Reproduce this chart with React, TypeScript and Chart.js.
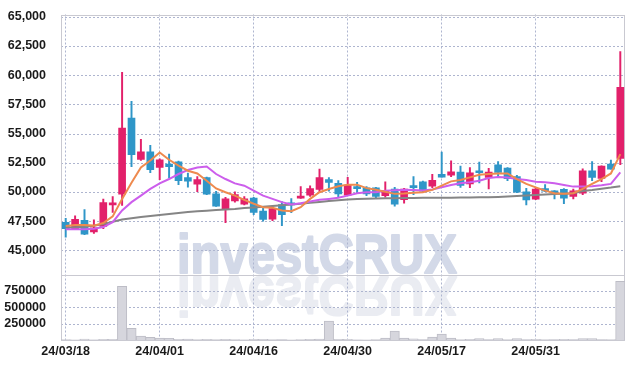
import React, { useEffect, useRef } from 'react';
import { Chart, registerables } from 'chart.js';

Chart.register(...registerables);

const dates = [
  '24/03/18', '24/03/19', '24/03/20', '24/03/21', '24/03/22', '24/03/25', '24/03/26', '24/03/27', '24/03/28', '24/03/29',
  '24/04/01', '24/04/02', '24/04/03', '24/04/04', '24/04/05', '24/04/08', '24/04/09', '24/04/11', '24/04/12', '24/04/15',
  '24/04/16', '24/04/17', '24/04/18', '24/04/19', '24/04/22', '24/04/23', '24/04/24', '24/04/25', '24/04/26', '24/04/29',
  '24/04/30', '24/05/02', '24/05/03', '24/05/07', '24/05/08', '24/05/09', '24/05/10', '24/05/13', '24/05/14', '24/05/16',
  '24/05/17', '24/05/20', '24/05/21', '24/05/22', '24/05/23', '24/05/24', '24/05/27', '24/05/28', '24/05/29', '24/05/30',
  '24/05/31', '24/06/03', '24/06/04', '24/06/05', '24/06/07', '24/06/10', '24/06/11', '24/06/12', '24/06/13', '24/06/14',
];

const opens = [
  47400, 46850, 47570, 46590, 47060, 48900, 49820, 56330, 52780, 53440,
  52100, 52390, 52590, 51230, 50660, 51230, 49840, 48480, 49240, 48950,
  49470, 48360, 47680, 48930, 49020, 49470, 49720, 50230, 51060, 50740,
  49720, 50350, 50350, 50350, 49690, 50260, 49350, 50460, 50880, 50490,
  51510, 51450, 51710, 50690, 51680, 51250, 52330, 52050, 51310, 50010,
  49380, 50290, 49980, 50230, 49630, 49890, 51820, 51170, 52390, 52870,
];
const highs = [
  47740, 47950, 48500, 47610, 49400, 49610, 60240, 57770, 54520, 54000,
  52840, 53240, 52650, 51610, 51310, 51270, 50060, 49550, 50010, 49610,
  49550, 48760, 48700, 49180, 49440, 50460, 50520, 51960, 51230, 50970,
  51250, 50830, 50460, 50400, 50860, 50400, 50320, 51310, 50930, 51510,
  53410, 52670, 52220, 52100, 52560, 52020, 52610, 52080, 51420, 50320,
  50330, 50630, 50120, 50290, 50260, 51990, 52610, 52250, 52730, 62020,
];
const lows = [
  46130, 46800, 46340, 46460, 46850, 48250, 48840, 52160, 52710, 51650,
  51060, 51200, 50630, 50420, 50030, 49780, 48760, 47370, 49130, 48900,
  48050, 47510, 47540, 47120, 48220, 49440, 49630, 50030, 50060, 49550,
  49690, 49890, 49690, 49500, 49550, 48780, 49040, 49780, 50010, 50370,
  51270, 51310, 50400, 50370, 50770, 50260, 51250, 50970, 49950, 48900,
  49350, 50030, 49410, 48990, 49410, 49780, 50970, 50880, 51950, 52330,
];
const closes = [
  46850, 47650, 46380, 46930, 49100, 48950, 55480, 53200, 53440, 51910,
  52760, 52160, 50970, 50930, 51060, 49810, 48780, 49410, 49780, 49410,
  48250, 47650, 48590, 48050, 48900, 49610, 50290, 51230, 50830, 49840,
  50600, 50290, 49840, 49630, 50090, 48950, 50260, 50370, 50060, 51000,
  51280, 51730, 50570, 51650, 51650, 51710, 51680, 51140, 49980, 49330,
  50260, 50060, 49930, 49470, 50090, 51820, 51250, 52220, 51960, 58960,
];

const ma5 = [
  47090, 47170, 47170, 47120, 47340, 47910, 49400, 50800, 52100, 52700,
  53380, 52760, 52250, 51820, 51590, 50970, 50300, 49980, 49690, 49330,
  48990, 48700, 48650, 48420, 48360, 48700, 49410, 49980, 50260, 50490,
  50630, 50630, 50330, 50190, 50020, 49840, 49870, 49940, 49980, 50180,
  50540, 50910, 51030, 51250, 51480, 51540, 51580, 51590, 51110, 50690,
  50400, 50120, 49890, 49840, 49890, 50260, 50690, 51110, 51590, 53240,
];
const ma10 = [
  46800, 46800, 46800, 46850, 47000, 47420, 48420, 49130, 49690, 50260,
  50740, 51110, 51540, 51880, 52100, 52190, 51540, 51110, 50740, 50540,
  50120, 49690, 49410, 49130, 48930, 49040, 49180, 49330, 49410, 49500,
  49690, 49890, 49980, 49980, 50100, 50150, 50190, 50170, 50120, 50210,
  50400, 50600, 50740, 50830, 50970, 51200, 51280, 51250, 51110, 51030,
  50880, 50830, 50740, 50600, 50460, 50460, 50490, 50570, 50690, 51680,
];
const ma60 = [
  46950, 46990, 47030, 47100, 47250, 47450, 47650, 47750, 47850, 47950,
  48030, 48120, 48200, 48280, 48350, 48400, 48450, 48500, 48550, 48620,
  48680, 48740, 48800, 48860, 48930, 49000, 49080, 49150, 49220, 49300,
  49350, 49400, 49430, 49450, 49460, 49470, 49480, 49490, 49500, 49500,
  49510, 49510, 49520, 49530, 49540, 49550, 49580, 49620, 49660, 49700,
  49740, 49780, 49820, 49860, 49900, 50080, 50170, 50280, 50380, 50500,
];

const volumes = [
  5000, 3000, 15000, 4000, 12000, 12000, 818000, 177000, 60000, 41000,
  30000, 26000, 12000, 14000, 8000, 10000, 8000, 10000, 5000, 4000,
  12000, 10000, 5000, 6000, 3000, 8000, 12000, 14000, 288000, 12000,
  10000, 4000, 3000, 8000, 30000, 136000, 28000, 18000, 6000, 45000,
  91000, 30000, 8000, 12000, 20000, 6000, 20000, 8000, 20000, 6000,
  10000, 8000, 6000, 10000, 6000, 20000, 20000, 6000, 8000, 894000,
];

const priceTicks = [45000, 47500, 50000, 52500, 55000, 57500, 60000, 62500, 65000];
const volumeTicks = [250000, 500000, 750000];
const labelEvery = 10;

const UP = '#e2206a';
const DOWN = '#2f96c8';
const GRID = '#aeb5cf';
const FRAME = '#c9c9d1';
const TICK_FONT = { family: '"Liberation Sans", Arial, sans-serif', size: 12.5, weight: 'bold' as const };

export default function App() {
  const ref = useRef<HTMLCanvasElement>(null);

  useEffect(() => {
    const colors = opens.map((o, i) => (closes[i] >= o ? UP : DOWN));

    const watermark = {
      id: 'watermark',
      beforeDraw(chart: any) {
        const { ctx, width } = chart;
        const base = chart.scales.y.bottom;
        ctx.save();
        ctx.font = 'bold 56px "Liberation Sans", Arial, sans-serif';
        const text = 'investCRUX';
        const w = ctx.measureText(text).width;
        const sx = 280 / w;
        ctx.translate(width / 2, base - 2);
        ctx.scale(sx, 1);
        ctx.textAlign = 'center';
        ctx.textBaseline = 'alphabetic';
        ctx.lineJoin = 'round';
        ctx.lineWidth = 2;
        ctx.fillStyle = '#d3d9e8';
        ctx.strokeStyle = '#d3d9e8';
        ctx.fillText(text, 0, 0);
        ctx.strokeText(text, 0, 0);
        ctx.scale(1, -1);
        ctx.fillStyle = '#eaecf2';
        ctx.strokeStyle = '#eaecf2';
        ctx.fillText(text, 0, -4);
        ctx.strokeText(text, 0, -4);
        ctx.restore();
      },
    };

    const frame = {
      id: 'frame',
      beforeDatasetsDraw(chart: any) {
        const { ctx, chartArea } = chart;
        const sep = chart.scales.y.bottom;
        const left = Math.round(chartArea.left);
        const right = Math.round(chartArea.right);
        ctx.save();
        // dotted horizontal grid lines, placed by the library's own scales
        ctx.lineWidth = 1;
        ctx.strokeStyle = GRID;
        ctx.setLineDash([2, 2]);
        const hline = (py: number) => {
          const yy = Math.round(py) + 0.5;
          ctx.beginPath();
          ctx.moveTo(left, yy);
          ctx.lineTo(right, yy);
          ctx.stroke();
        };
        priceTicks.forEach((v) => hline(chart.scales.y.getPixelForValue(v)));
        volumeTicks.forEach((v) => hline(chart.scales.yv.getPixelForValue(v)));
        ctx.setLineDash([]);
        ctx.strokeStyle = FRAME;
        ctx.strokeRect(left + 0.5, Math.round(chartArea.top) + 0.5, right - left - 1, Math.round(chartArea.bottom - chartArea.top) - 1);
        ctx.beginPath();
        ctx.moveTo(left, Math.round(sep) + 0.5);
        ctx.lineTo(right, Math.round(sep) + 0.5);
        ctx.stroke();
        ctx.restore();
      },
    };

    const chart = new Chart(ref.current as HTMLCanvasElement, {
      type: 'bar',
      data: {
        labels: dates,
        datasets: [
          { type: 'line', label: 'MA5', data: ma5, borderColor: '#ee8a4e', borderWidth: 2, pointRadius: 0, yAxisID: 'y', order: 0 } as any,
          { type: 'line', label: 'MA10', data: ma10, borderColor: '#cc5eec', borderWidth: 2, pointRadius: 0, yAxisID: 'y', order: 0 } as any,
          { type: 'line', label: 'MA60', data: ma60, borderColor: '#858585', borderWidth: 2, pointRadius: 0, yAxisID: 'y', order: 0 } as any,
          {
            type: 'bar', label: 'body', data: opens.map((o, i) => [o, closes[i]]),
            backgroundColor: colors, barThickness: 7, grouped: false, minBarLength: 2, yAxisID: 'y', order: 1,
          } as any,
          {
            type: 'bar', label: 'wick', data: lows.map((l, i) => [l, highs[i]]),
            backgroundColor: colors, barThickness: 1.3, grouped: false, yAxisID: 'y', order: 2,
          } as any,
          {
            type: 'bar', label: 'volume', data: volumes,
            backgroundColor: '#d6d6dd', borderColor: '#bdbdc6', borderWidth: 1,
            barPercentage: 1, categoryPercentage: 1, grouped: false, yAxisID: 'yv', order: 3,
          } as any,
        ],
      },
      options: {
        animation: false,
        responsive: false,
        devicePixelRatio: 1,
        layout: { padding: { top: 12, right: 9, left: 0, bottom: 0 } },
        plugins: { legend: { display: false }, tooltip: { enabled: false } },
        scales: {
          x: {
            type: 'category',
            offset: true,
            grid: { offset: false, color: GRID, drawTicks: false, lineWidth: 1 },
            border: { display: false, dash: [2, 2] },
            ticks: { autoSkip: false, maxRotation: 0, padding: 4, color: '#1a1a1a', font: TICK_FONT },
            afterBuildTicks: (s: any) => { s.ticks = s.ticks.filter((t: any) => t.value % labelEvery === 0); },
            afterFit: (s: any) => { s.height = 29; },
          },
          yv: {
            type: 'linear',
            position: 'left',
            stack: 'pv',
            stackWeight: 1,
            min: 0,
            max: 990000,
            grid: { display: false },
            border: { display: false },
            ticks: { autoSkip: false, padding: 7, color: '#1a1a1a', font: TICK_FONT, callback: (v: any) => String(v) },
            afterBuildTicks: (s: any) => { s.ticks = volumeTicks.map((v) => ({ value: v })); },
            afterFit: (s: any) => { s.width = 61; },
          },
          y: {
            type: 'linear',
            position: 'left',
            stack: 'pv',
            stackWeight: 4,
            min: 42900,
            max: 65200,
            grid: { display: false },
            border: { display: false },
            ticks: { autoSkip: false, padding: 7, color: '#1a1a1a', font: TICK_FONT, callback: (v: any) => Number(v).toLocaleString('en-US') },
            afterBuildTicks: (s: any) => { s.ticks = priceTicks.map((v) => ({ value: v })); },
            afterFit: (s: any) => { s.width = 61; },
          },
        },
      } as any,
      plugins: [watermark, frame],
    });

    return () => chart.destroy();
  }, []);

  return (
    <div style={{ position: 'absolute', left: 0, top: 0, width: 634, height: 369, background: '#fff' }}>
      <canvas ref={ref} width={634} height={369} />
    </div>
  );
}
